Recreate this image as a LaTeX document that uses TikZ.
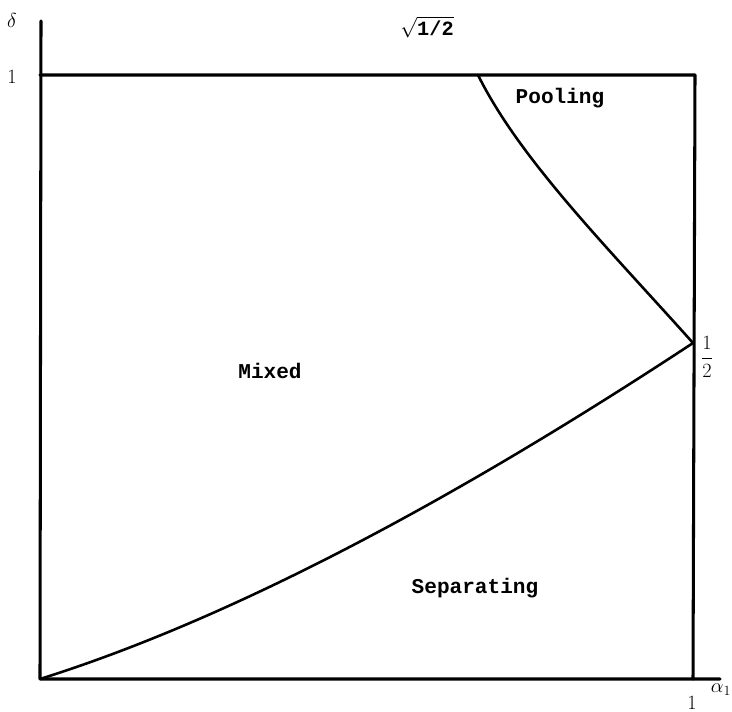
\documentclass[tikz,border=0pt]{standalone}
\usepackage{fontspec}
\setmonofont{Liberation Mono}
\usepackage{tikz}
\usetikzlibrary{positioning}
\tikzset{
  every picture/.style={line join=round, line cap=round},
  eje/.style={line width=2.6pt},
  frontera/.style={line width=2.2pt},
  region/.style={font=\ttfamily\bfseries\fontsize{18}{20}\selectfont},
  marca/.style={font=\fontsize{17.28}{20}\selectfont, inner sep=0pt},
}

\begin{document}
\begin{tikzpicture}[x=0.03cm, y=-0.03cm]
  \useasboundingbox (0,0) rectangle (732,712);
  % esquinas del cuadrado
  \coordinate (O) at (40,679);
  \coordinate (ytop) at (41,21);
  \coordinate (xend) at (720,679);
  \coordinate (TL) at (40,75);
  \coordinate (TR) at (695,75);
  \coordinate (BR) at (693,679);
  \coordinate (kink) at (693,343);
  \coordinate (pooltop) at (478,75);
  \draw[eje] (ytop) -- (O) -- (xend);
  \draw[eje] (TL) -- (TR) -- (BR);
  % fronteras
  \draw[frontera] (O) .. controls (260,610) and (500,470) .. (kink);
  \draw[frontera] (pooltop) .. controls (520,160) and (610,250) .. (kink);
  % marcas de los ejes
  \node[marca] (delta) at (12,20) {$\delta$};
  \node[marca] (uno) at (12,77) {1};
  \node[marca] (raiz) at (427,27) {$\sqrt{\texttt{\bfseries 1/2}}$};
  \node[marca] (medio) at (707,357) {$\displaystyle\frac{1}{2}$};
  \node[marca] (unox) at (692,703) {1};
  \node[marca] (alfa) at (721,690) {$\alpha_1$};
  % regiones
  \node[region] (pool) at (560,98) {Pooling};
  \node[region] (mix) at (270,371) {Mixed};
  \node[region] (sep) at (475,588) {Separating};
\end{tikzpicture}
\end{document}
